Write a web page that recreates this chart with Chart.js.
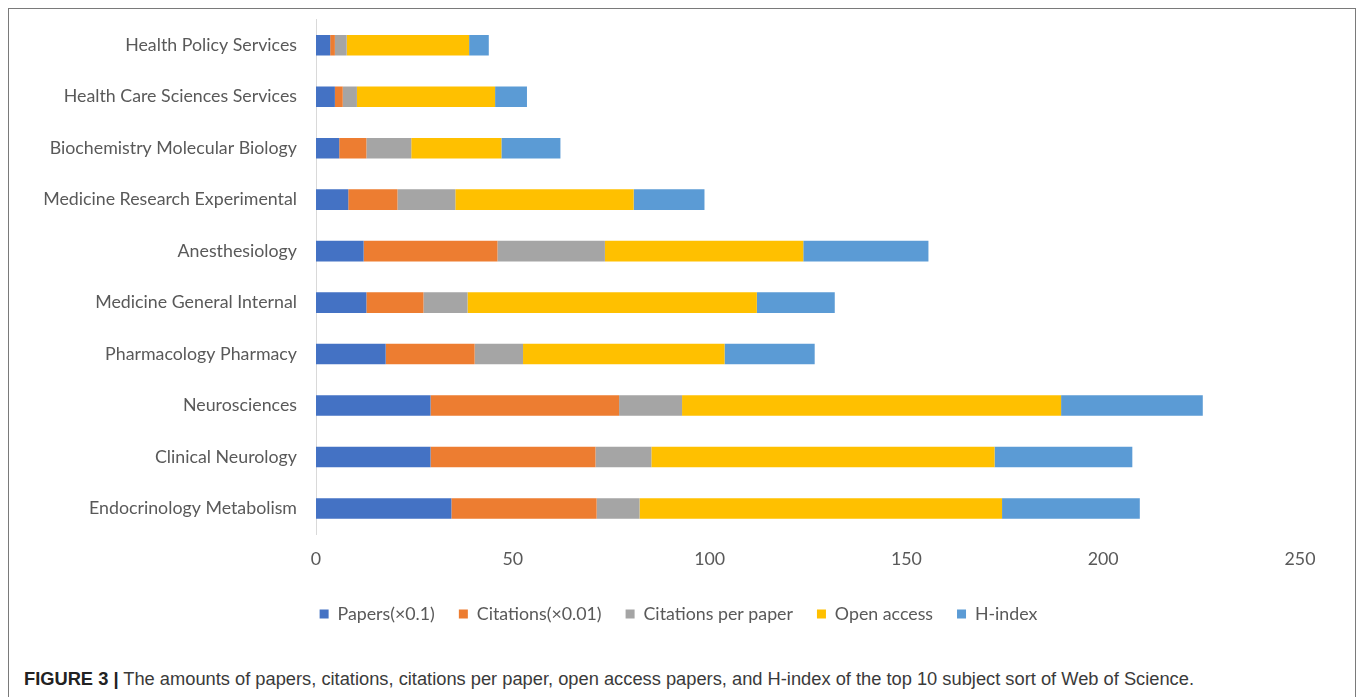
<!DOCTYPE html>
<html>
<head>
<meta charset="utf-8">
<script src="https://cdn.jsdelivr.net/npm/chart.js@4.4.1/dist/chart.umd.min.js"></script>
<style>
  html, body { margin: 0; padding: 0; background: #fff; }
  #frame {
    position: absolute; left: 8px; top: 8px;
    width: 1348px; height: 720px;
    border: 1.5px solid #7a7a7a;
    box-sizing: border-box;
  }
  #chartBox { position: absolute; left: 0; top: 0; width: 1357px; height: 650px; }
  #caption {
    position: absolute; left: 24px; top: 668px;
    font-family: "Liberation Sans", Arial, sans-serif;
    font-size: 18.3px; color: #3a3a3a; white-space: nowrap;
  }
  #caption b { color: #222; }
</style>
</head>
<body>
<div id="frame"></div>
<div id="chartBox"><canvas id="c" width="1357" height="650"></canvas></div>
<div id="caption"><b>FIGURE 3 |</b> The amounts of papers, citations, citations per paper, open access papers, and H-index of the top 10 subject sort of Web of Science.</div>
<script>
// Subject categories, top to bottom
const subjects = [
  "Health Policy Services",
  "Health Care Sciences Services",
  "Biochemistry Molecular Biology",
  "Medicine Research Experimental",
  "Anesthesiology",
  "Medicine General Internal",
  "Pharmacology Pharmacy",
  "Neurosciences",
  "Clinical Neurology",
  "Endocrinology Metabolism"
];

// Series values per subject
const papers       = [3.6, 4.8, 5.9, 8.2, 12.1, 12.8, 17.7, 29.1, 29.1, 34.4];
const citations    = [1.2, 2.0, 6.9, 12.5, 34.0, 14.5, 22.6, 47.9, 41.9, 36.9];
const citesPerPaper= [3.0, 3.6, 11.4, 14.7, 27.3, 11.2, 12.3, 16.0, 14.2, 10.9];
const openAccess   = [31.1, 35.1, 22.9, 45.3, 50.4, 73.5, 51.2, 96.3, 87.2, 92.1];
const hIndex       = [5.0, 8.1, 15.0, 18.0, 31.8, 19.8, 22.9, 36.0, 35.0, 35.0];

const seriesNames = ["Papers(×0.1)", "Citations(×0.01)", "Citations per paper", "Open access", "H-index"];
const seriesColors = ["#4472C4", "#ED7D31", "#A5A5A5", "#FFC000", "#5B9BD5"];
const seriesData = [papers, citations, citesPerPaper, openAccess, hIndex];

const xTicks = [0, 50, 100, 150, 200, 250];

const textColor = "#595959";
const labelFont = { family: "Lato, 'Open Sans', sans-serif", size: 17.8 };

new Chart(document.getElementById("c"), {
  type: "bar",
  data: {
    labels: subjects,
    datasets: seriesData.map((d, i) => ({
      label: seriesNames[i],
      data: d,
      backgroundColor: seriesColors[i],
      borderWidth: 0,
      barPercentage: 0.4,
      categoryPercentage: 1.0
    }))
  },
  options: {
    indexAxis: "y",
    responsive: false,
    animation: false,
    layout: { padding: { left: 0, top: 19.5, right: 0, bottom: 17 } },
    scales: {
      x: {
        stacked: true,
        min: xTicks[0],
        max: xTicks[xTicks.length - 1],
        afterBuildTicks: (scale) => { scale.ticks = xTicks.map(v => ({ value: v })); },
        grid: { display: false, drawTicks: false },
        border: { display: false },
        ticks: { color: textColor, font: labelFont, padding: 14 },
        afterFit: (scale) => { scale.height = 47; }
      },
      y: {
        stacked: true,
        grid: { display: false, drawTicks: false },
        border: { display: true, color: "#d9d9d9", width: 1 },
        ticks: { color: textColor, font: labelFont, padding: 19 },
        afterFit: (scale) => {
          scale.width = 316;
          scale.paddingTop = 0;
          scale.paddingBottom = 0;
        }
      },
      // empty right-hand margin so the plot ends short of the canvas edge
      yRight: {
        type: "category",
        axis: "y",
        position: "right",
        grid: { display: false, drawTicks: false },
        border: { display: false },
        ticks: { display: false },
        afterFit: (scale) => {
          scale.width = 57;
          scale.paddingTop = 0;
          scale.paddingBottom = 0;
        }
      }
    },
    plugins: {
      legend: {
        position: "bottom",
        labels: {
          color: textColor,
          font: labelFont,
          boxWidth: 9,
          boxHeight: 9,
          padding: 24
        }
      },
      tooltip: { enabled: false }
    }
  }
});
</script>
</body>
</html>
